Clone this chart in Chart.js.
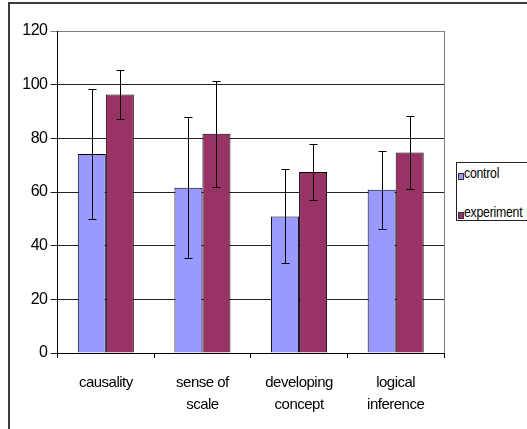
<!DOCTYPE html>
<html>
<head>
<meta charset="utf-8">
<script src="https://cdn.jsdelivr.net/npm/chart.js@4/dist/chart.umd.min.js"></script>
<style>
  html, body { margin: 0; padding: 0; background: #fff; }
  #wrap { position: relative; width: 527px; height: 429px; overflow: hidden; }
  #frame { position: absolute; left: 8px; top: 2px; width: 600px; height: 500px;
           border-left: 2px solid #3a3a3a; border-top: 2px solid #3a3a3a; }
  canvas { position: absolute; left: 0; top: 0; }
  #legend { position: absolute; left: 456px; top: 162px; width: 100px; height: 57px;
            border: 1px solid #222; background: #fff;
            font-family: "Liberation Sans", Arial, sans-serif; font-size: 15px; color: #000; }
  .item { position: absolute; left: 1px; height: 15px; line-height: 15px; white-space: nowrap; }
  .sw { position: absolute; left: 0; top: 8px; width: 4px; height: 5px; border: 1px solid #333; }
  .tx { position: absolute; left: 6px; top: 0; display: inline-block; transform: scaleX(0.82); transform-origin: 0 50%; letter-spacing: -0.3px; }
</style>
</head>
<body>
<div id="wrap">
  <div id="frame"></div>
  <canvas id="c" width="527" height="429"></canvas>
  <div id="legend"></div>
</div>
<script>
const categories = [["causality"], ["sense of", "scale"], ["developing", "concept"], ["logical", "inference"]];
const seriesNames = ["control", "experiment"];
const controlValues = [74.2, 61.6, 50.9, 60.8];
const controlErrors = [24.1, 26.3, 17.5, 14.6];
const experimentValues = [96.3, 81.7, 67.5, 74.7];
const experimentErrors = [9.0, 19.8, 10.5, 13.5];
const yTicks = [0, 20, 40, 60, 80, 100, 120];
const colors = ["#9999FF", "#993366"];

const tightText = {
  id: "tightText",
  beforeLayout(chart) { chart.ctx.letterSpacing = "-0.5px"; },
  beforeDraw(chart) { chart.ctx.letterSpacing = "-0.5px"; }
};

const errorBars = {
  id: "errorBars",
  afterDatasetsDraw(chart) {
    const ctx = chart.ctx;
    const y = chart.scales.y;
    ctx.save();
    ctx.strokeStyle = "#000";
    ctx.lineWidth = 1;
    chart.data.datasets.forEach((ds, di) => {
      const meta = chart.getDatasetMeta(di);
      meta.data.forEach((bar, i) => {
        const v = ds.data[i], e = ds.errors[i];
        const x = Math.round(bar.x) + 0.5;
        const t = Math.round(y.getPixelForValue(v + e)) + 0.5;
        const b = Math.round(y.getPixelForValue(v - e)) + 0.5;
        ctx.beginPath();
        ctx.moveTo(x, t); ctx.lineTo(x, b);
        ctx.moveTo(x - 4, t); ctx.lineTo(x + 4, t);
        ctx.moveTo(x - 4, b); ctx.lineTo(x + 4, b);
        ctx.stroke();
      });
    });
    const a = chart.chartArea;
    ctx.strokeStyle = "#808080";
    ctx.beginPath();
    ctx.moveTo(Math.round(a.right) + 0.5, a.top);
    ctx.lineTo(Math.round(a.right) + 0.5, a.bottom);
    ctx.stroke();
    ctx.restore();
  }
};

const canvas = document.getElementById("c");
canvas.getContext("2d").letterSpacing = "-0.5px";

const chart = new Chart(canvas, {
  type: "bar",
  data: {
    labels: categories,
    datasets: [
      { label: seriesNames[0], data: controlValues, errors: controlErrors, backgroundColor: colors[0], borderColor: "#000", borderWidth: 1 },
      { label: seriesNames[1], data: experimentValues, errors: experimentErrors, backgroundColor: colors[1], borderColor: "#000", borderWidth: 1 }
    ]
  },
  options: {
    responsive: false,
    animation: false,
    devicePixelRatio: 1,
    layout: { padding: { left: 0, top: 31, right: 83, bottom: 0 } },
    datasets: { bar: { categoryPercentage: 0.58, barPercentage: 1.0 } },
    plugins: { legend: { display: false }, tooltip: { enabled: false } },
    scales: {
      x: {
        afterFit(s) { s.height = 76; },
        grid: { offset: true, drawOnChartArea: false, tickLength: 5, color: "#000" },
        border: { color: "#000" },
        ticks: { color: "#000", padding: 14, maxRotation: 0, autoSkip: false,
                 font: { family: "'Liberation Sans', Arial, sans-serif", size: 15, lineHeight: 1.47 } }
      },
      y: {
        min: 0, max: 120,
        afterFit(s) { s.width = 57.5; },
        afterBuildTicks(s) { s.ticks = yTicks.map(v => ({ value: v })); },
        grid: { color: (c) => c.tick && c.tick.value === 120 ? "#808080" : "#222", tickLength: 7 },
        border: { color: "#000" },
        ticks: { color: "#000", padding: 3,
                 font: { family: "'Liberation Sans', Arial, sans-serif", size: 16 } }
      }
    }
  },
  plugins: [tightText, errorBars]
});

const legend = document.getElementById("legend");
const tops = [2, 41];
seriesNames.forEach((n, i) => {
  const d = document.createElement("div");
  d.className = "item";
  d.style.top = tops[i] + "px";
  const sw = document.createElement("span");
  sw.className = "sw";
  sw.style.background = colors[i];
  const tx = document.createElement("span");
  tx.className = "tx";
  tx.textContent = n;
  d.appendChild(sw);
  d.appendChild(tx);
  legend.appendChild(d);
});
</script>
</body>
</html>
